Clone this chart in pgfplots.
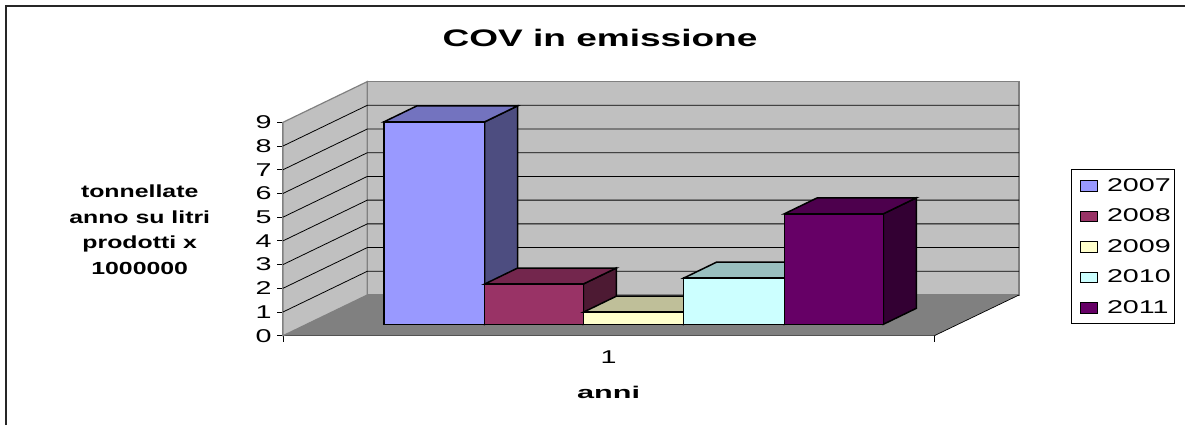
\documentclass[border=0pt]{standalone}
\usepackage{pgfplots}
\pgfplotsset{compat=1.18}
\usepackage{fontspec}
\setmainfont[FakeStretch=1.55]{Liberation Sans}
\definecolor{wall}{HTML}{C0C0C0}
\definecolor{floorc}{HTML}{808080}
\definecolor{edge}{HTML}{808080}
\begin{document}
\begin{tikzpicture}[x=1bp,y=1bp]
\useasboundingbox (0,0) rectangle (1185,425);
\fill[white] (0,0) rectangle (1185,425);
\draw[black!85,line width=1.8bp] (6,0) -- (6,419) -- (1185,419);
\begin{axis}[
  at={(283bp,89.3bp)}, anchor=south west,
  scale only axis, width=651.3bp, height=213.4bp,
  xmin=283, xmax=934.3, ymin=0, ymax=9,
  clip=false,
  axis lines*=left,
  x axis line style={black,line width=1bp},
  y axis line style={edge,line width=1.2bp},
  xtick={283,934.3}, xticklabels={,},
  extra x ticks={608.6}, extra x tick labels={1},
  extra x tick style={major tick length=0pt,tick label style={yshift=-12bp}},
  ytick={0,1,...,9},
  tick align=outside,
  major tick length=6bp,
  tick style={black,line width=0.8bp},
  ticklabel style={font=\fontsize{18.5bp}{20bp}\selectfont},
  /pgf/number format/assume math mode=true,
  yticklabel style={xshift=-2bp},
  title={COV in emissione},
  title style={at={(axis description cs:0.4867,1.368)},anchor=center,font=\fontsize{23.9bp}{26bp}\selectfont\bfseries},
  xlabel={anni},
  xlabel style={at={(axis description cs:0.5,-0.264)},anchor=center,font=\fontsize{17bp}{20bp}\selectfont\bfseries\addfontfeature{FakeStretch=1.8}},
  ylabel={tonnellate\\anno su litri\\prodotti x\\1000000},
  ylabel style={at={(axis description cs:-0.22,0.497)},anchor=center,rotate=-90,align=center,font=\fontsize{17.5bp}{25.5bp}\selectfont\bfseries\addfontfeature{FakeStretch=1.42}},
  legend style={at={(axis description cs:1.2094,0.0548)},anchor=south west,draw=black,line width=0.6bp,
    font=\fontsize{18.5bp}{20bp}\selectfont,row sep=14bp,inner xsep=3bp,inner ysep=8bp,
    nodes={inner sep=1bp}},
  legend cell align=left,
  legend image code/.code={\path[draw=none,fill=none] (0bp,0bp) -- (32bp,0bp);\draw[#1,line width=1bp] (6.5bp,-5.5bp) rectangle (23.5bp,5bp);},
]
% walls and floor
\addplot[forget plot,fill=wall,draw=edge,line width=1.2bp] coordinates {(283,0)(367.3,1.717)(367.3,10.717)(283,9)} --cycle;
\addplot[forget plot,fill=wall,draw=edge,line width=1.2bp] coordinates {(367.3,1.717)(1019,1.717)(1019,10.717)(367.3,10.717)} --cycle;
\addplot[forget plot,fill=floorc,draw=none] coordinates {(283,0)(934.3,0)(1019,1.717)(367.3,1.717)} --cycle;
\addplot[forget plot,black,line width=0.7bp] coordinates {(934.3,0)(1019,1.717)};
% gridlines
\addplot[forget plot,black,line width=0.8bp] coordinates {(283,1)(367.3,2.717)(1019,2.717)};
\addplot[forget plot,black,line width=0.8bp] coordinates {(283,2)(367.3,3.717)(1019,3.717)};
\addplot[forget plot,black,line width=0.8bp] coordinates {(283,3)(367.3,4.717)(1019,4.717)};
\addplot[forget plot,black,line width=0.8bp] coordinates {(283,4)(367.3,5.717)(1019,5.717)};
\addplot[forget plot,black,line width=0.8bp] coordinates {(283,5)(367.3,6.717)(1019,6.717)};
\addplot[forget plot,black,line width=0.8bp] coordinates {(283,6)(367.3,7.717)(1019,7.717)};
\addplot[forget plot,black,line width=0.8bp] coordinates {(283,7)(367.3,8.717)(1019,8.717)};
\addplot[forget plot,black,line width=0.8bp] coordinates {(283,8)(367.3,9.717)(1019,9.717)};
% 2007: value 8.54
\addplot[forget plot,fill={rgb,255:red,77;green,77;blue,128},draw=black,line width=1.5bp] coordinates {(484.7,0.48)(517.7,1.155)(517.7,9.695)(484.7,9.02)} --cycle;
\addplot[forget plot,fill={rgb,255:red,115;green,115;blue,191},draw=black,line width=1.5bp] coordinates {(384,9.02)(484.7,9.02)(517.7,9.695)(417,9.695)} --cycle;
\addplot[fill={rgb,255:red,153;green,153;blue,255},draw=black,line width=1.5bp] coordinates {(384,0.48)(484.7,0.48)(484.7,9.02)(384,9.02)} --cycle;
\addlegendentry{2007}
% 2008: value 1.70
\addplot[forget plot,fill={rgb,255:red,77;green,26;blue,51},draw=black,line width=1.5bp] coordinates {(583.3,0.48)(616.3,1.155)(616.3,2.855)(583.3,2.18)} --cycle;
\addplot[forget plot,fill={rgb,255:red,115;green,38;blue,77},draw=black,line width=1.5bp] coordinates {(484.7,2.18)(583.3,2.18)(616.3,2.855)(517.7,2.855)} --cycle;
\addplot[fill={rgb,255:red,153;green,51;blue,102},draw=black,line width=1.5bp] coordinates {(484.7,0.48)(583.3,0.48)(583.3,2.18)(484.7,2.18)} --cycle;
\addlegendentry{2008}
% 2009: value 0.51
\addplot[forget plot,fill={rgb,255:red,128;green,128;blue,102},draw=black,line width=1.5bp] coordinates {(683.7,0.48)(716.7,1.155)(716.7,1.665)(683.7,0.99)} --cycle;
\addplot[forget plot,fill={rgb,255:red,191;green,191;blue,153},draw=black,line width=1.5bp] coordinates {(583.3,0.99)(683.7,0.99)(716.7,1.665)(616.3,1.665)} --cycle;
\addplot[fill={rgb,255:red,255;green,255;blue,204},draw=black,line width=1.5bp] coordinates {(583.3,0.48)(683.7,0.48)(683.7,0.99)(583.3,0.99)} --cycle;
\addlegendentry{2009}
% 2010: value 1.95
\addplot[forget plot,fill={rgb,255:red,102;green,128;blue,128},draw=black,line width=1.5bp] coordinates {(784.3,0.48)(817.3,1.155)(817.3,3.105)(784.3,2.43)} --cycle;
\addplot[forget plot,fill={rgb,255:red,153;green,191;blue,191},draw=black,line width=1.5bp] coordinates {(683.7,2.43)(784.3,2.43)(817.3,3.105)(716.7,3.105)} --cycle;
\addplot[fill={rgb,255:red,204;green,255;blue,255},draw=black,line width=1.5bp] coordinates {(683.7,0.48)(784.3,0.48)(784.3,2.43)(683.7,2.43)} --cycle;
\addlegendentry{2010}
% 2011: value 4.66
\addplot[forget plot,fill={rgb,255:red,51;green,0;blue,51},draw=black,line width=1.5bp] coordinates {(883.3,0.48)(916.3,1.155)(916.3,5.815)(883.3,5.14)} --cycle;
\addplot[forget plot,fill={rgb,255:red,77;green,0;blue,77},draw=black,line width=1.5bp] coordinates {(784.3,5.14)(883.3,5.14)(916.3,5.815)(817.3,5.815)} --cycle;
\addplot[fill={rgb,255:red,102;green,0;blue,102},draw=black,line width=1.5bp] coordinates {(784.3,0.48)(883.3,0.48)(883.3,5.14)(784.3,5.14)} --cycle;
\addlegendentry{2011}
\end{axis}
\end{tikzpicture}
\end{document}
